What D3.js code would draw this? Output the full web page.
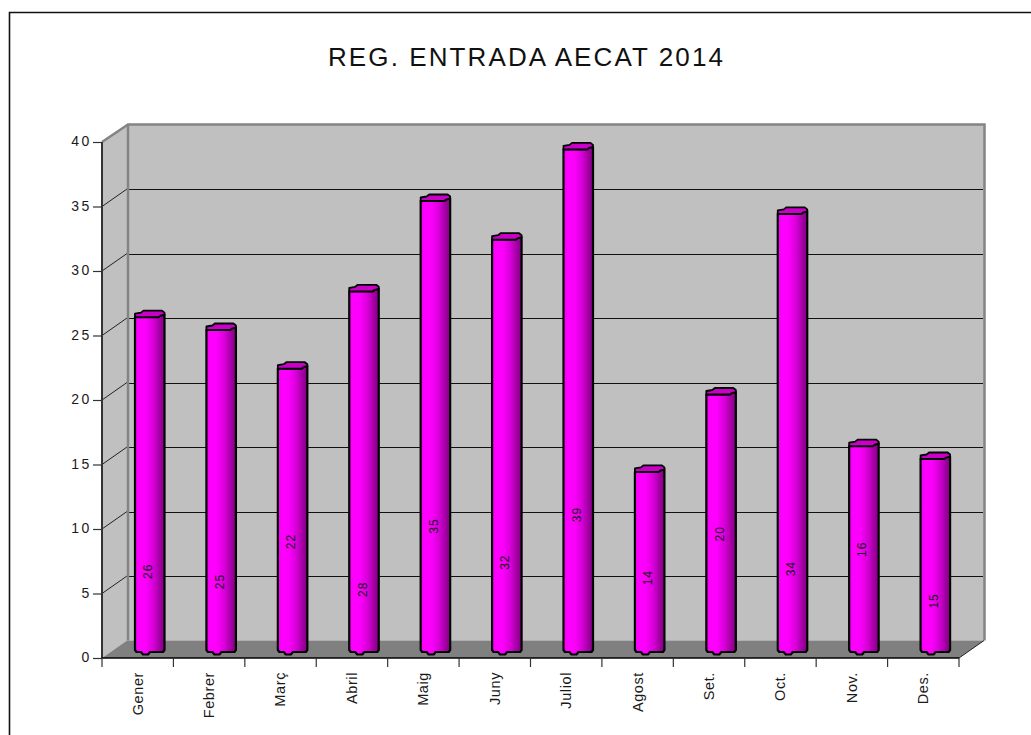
<!DOCTYPE html>
<html>
<head>
<meta charset="utf-8">
<script src="https://cdn.jsdelivr.net/npm/d3@7"></script>
<style>
html,body{margin:0;padding:0;background:#fff;overflow:hidden}
svg{display:block}
text{font-family:"Liberation Sans",Arial,sans-serif;fill:#1a1a1a}
</style>
</head>
<body>
<svg id="chart" width="1031" height="735"></svg>
<script>
const titleText = "REG. ENTRADA AECAT 2014";
const months = ["Gener","Febrer","Març","Abril","Maig","Juny","Juliol","Agost","Set.","Oct.","Nov.","Des."];
const entries = [26,25,22,28,35,32,39,14,20,34,16,15];
const valueLabelHeights = [6.3,5.5,8.6,4.9,9.8,7,10.7,5.8,9.2,6.5,8,4];
const yTicks = [0,5,10,15,20,25,30,35,40];

const svg = d3.select("#chart");
const W = 1031, H = 735;
const plot = {left:102, right:959, top:142, bottom:658, dx:25, dy:-17.5};

const x = d3.scaleBand().domain(months).range([plot.left, plot.right]);
const y = d3.scaleLinear().domain([0,40]).range([plot.bottom, plot.top]);

const defs = svg.append("defs");
const grad = defs.append("linearGradient").attr("id","cyl").attr("x1","0").attr("x2","1").attr("y1","0").attr("y2","0");
[[0,"#f000f0"],[0.15,"#ff00ff"],[0.38,"#fa00fa"],[0.62,"#d800d8"],[0.85,"#a000a0"],[1,"#800080"]]
  .forEach(([o,c])=>grad.append("stop").attr("offset",o).attr("stop-color",c));

// frame: only the left and top edges fall inside the picture
svg.append("path").attr("d",`M9.5,${H} V12.5 H${W}`).attr("fill","none").attr("stroke","#111").attr("stroke-width",1.6);

// title
svg.append("text").attr("x",526.5).attr("y",66).attr("text-anchor","middle")
  .attr("font-size",26).style("letter-spacing","2.1px").style("fill","#111").text(titleText);

const L=plot.left,R=plot.right,T=plot.top,B=plot.bottom,dx=plot.dx,dy=plot.dy;

// walls and floor
svg.append("path").attr("d",`M${L+dx},${T+dy} H${R+dx} V${B+dy} H${L+dx} Z`).attr("fill","#c0c0c0");
svg.append("path").attr("d",`M${L},${T} L${L+dx},${T+dy} V${B+dy} L${L},${B} Z`).attr("fill","#c0c0c0");
svg.append("path").attr("d",`M${L},${B} L${L+dx},${B+dy} H${R+dx} L${R},${B} Z`).attr("fill","#808080");

// gridlines on back and side walls
const inner = yTicks.filter(t=>t>0 && t<40);
svg.append("g").selectAll("line").data(inner).join("line")
  .attr("x1",L+dx).attr("x2",R+dx-1)
  .attr("y1",d=>Math.round(y(d)+dy)+0.5).attr("y2",d=>Math.round(y(d)+dy)+0.5)
  .attr("stroke","#111").attr("stroke-width",1);
svg.append("g").selectAll("line").data(inner).join("line")
  .attr("x1",L).attr("x2",L+dx).attr("y1",d=>y(d)).attr("y2",d=>y(d)+dy)
  .attr("stroke","#222").attr("stroke-width",1);

// grey wall edges
svg.append("path").attr("d",`M${L},${T} L${L+dx+1},${T+dy} H${R+dx+0.5} V${B+dy}`)
  .attr("fill","none").attr("stroke","#848484").attr("stroke-width",2.5);
svg.append("line").attr("x1",L+dx+1).attr("x2",L+dx+1).attr("y1",T+dy).attr("y2",B+dy)
  .attr("stroke","#848484").attr("stroke-width",2.5);
svg.append("line").attr("x1",R).attr("x2",R+dx).attr("y1",B).attr("y2",B+dy)
  .attr("stroke","#222").attr("stroke-width",1);

// cylinders: body, cap, base outline are built relative to each band
const barOffset = 33, barW = 29.5, lift = 5.5;
const barY = v => y(v) - lift;
const bars = svg.append("g").selectAll("g").data(months.map((m,i)=>({m,v:entries[i],h:valueLabelHeights[i]}))).join("g")
  .attr("transform",d=>`translate(${x(d.m)+barOffset},0)`);

bars.append("path")
  .attr("d",d=>{
    const t=barY(d.v), b=barY(0)-0.5;
    return `M0,${t} V${b-2} L1.5,${b} H6 L8,${b+2.5} H13 L15,${b} H${barW-1.5} L${barW},${b-2} V${t-2.5} L${barW-4},${t-1.5} L${barW-6},${t} Z`;
  })
  .attr("fill","url(#cyl)").attr("stroke","#000").attr("stroke-width",2.2).attr("stroke-linejoin","round");
bars.append("path")
  .attr("d",d=>{
    const t=barY(d.v);
    return `M0,${t} V${t-3.5} L6,${t-4.5} L8.5,${t-6.5} H${barW-2.5} L${barW},${t-4.5} V${t-2.5} L${barW-4},${t-1.5} L${barW-6},${t} Z`;
  })
  .attr("fill","#c800c8").attr("stroke","#000").attr("stroke-width",1.8).attr("stroke-linejoin","round");

// value labels
bars.append("text")
  .attr("transform",d=>`translate(${barW/2+2.5},${barY(d.h)}) rotate(-90)`)
  .attr("text-anchor","middle").attr("font-size",12).style("letter-spacing","1px")
  .text(d=>d.v);

// y axis
const yAxis = d3.axisLeft(y).tickValues(yTicks).tickSize(9).tickPadding(1).tickFormat(d3.format("d"));
const gy = svg.append("g").attr("transform",`translate(${L},0)`).call(yAxis);
gy.select(".domain").attr("d",`M0,${T} V${B}`).attr("stroke","#333").attr("stroke-width",2);
gy.selectAll(".tick line").attr("stroke","#333").attr("stroke-width",1.2);
gy.selectAll(".tick text").attr("font-size",14).attr("font-family",null).style("letter-spacing","2.6px").attr("dy","0.27em");

// x axis
const xAxis = d3.axisBottom(x).tickSize(0).tickFormat(d=>d);
const gx = svg.append("g").attr("transform",`translate(0,${B})`).call(xAxis);
gx.select(".domain").attr("d",`M${L},0 H${R}`).attr("stroke","#000").attr("stroke-width",1.6);
gx.selectAll(".tick text")
  .attr("font-size",14.5).attr("font-family",null).style("letter-spacing","0.6px")
  .attr("text-anchor","end").attr("transform","translate(0,14) rotate(-90)").attr("x",0).attr("y",0).attr("dy","0.34em");
svg.append("g").selectAll("line").data(months.map(m=>x(m)+x.step()).concat([L])).join("line")
  .attr("x1",d=>d).attr("x2",d=>d).attr("y1",B).attr("y2",B+9).attr("stroke","#333").attr("stroke-width",1.2);
</script>
</body>
</html>
